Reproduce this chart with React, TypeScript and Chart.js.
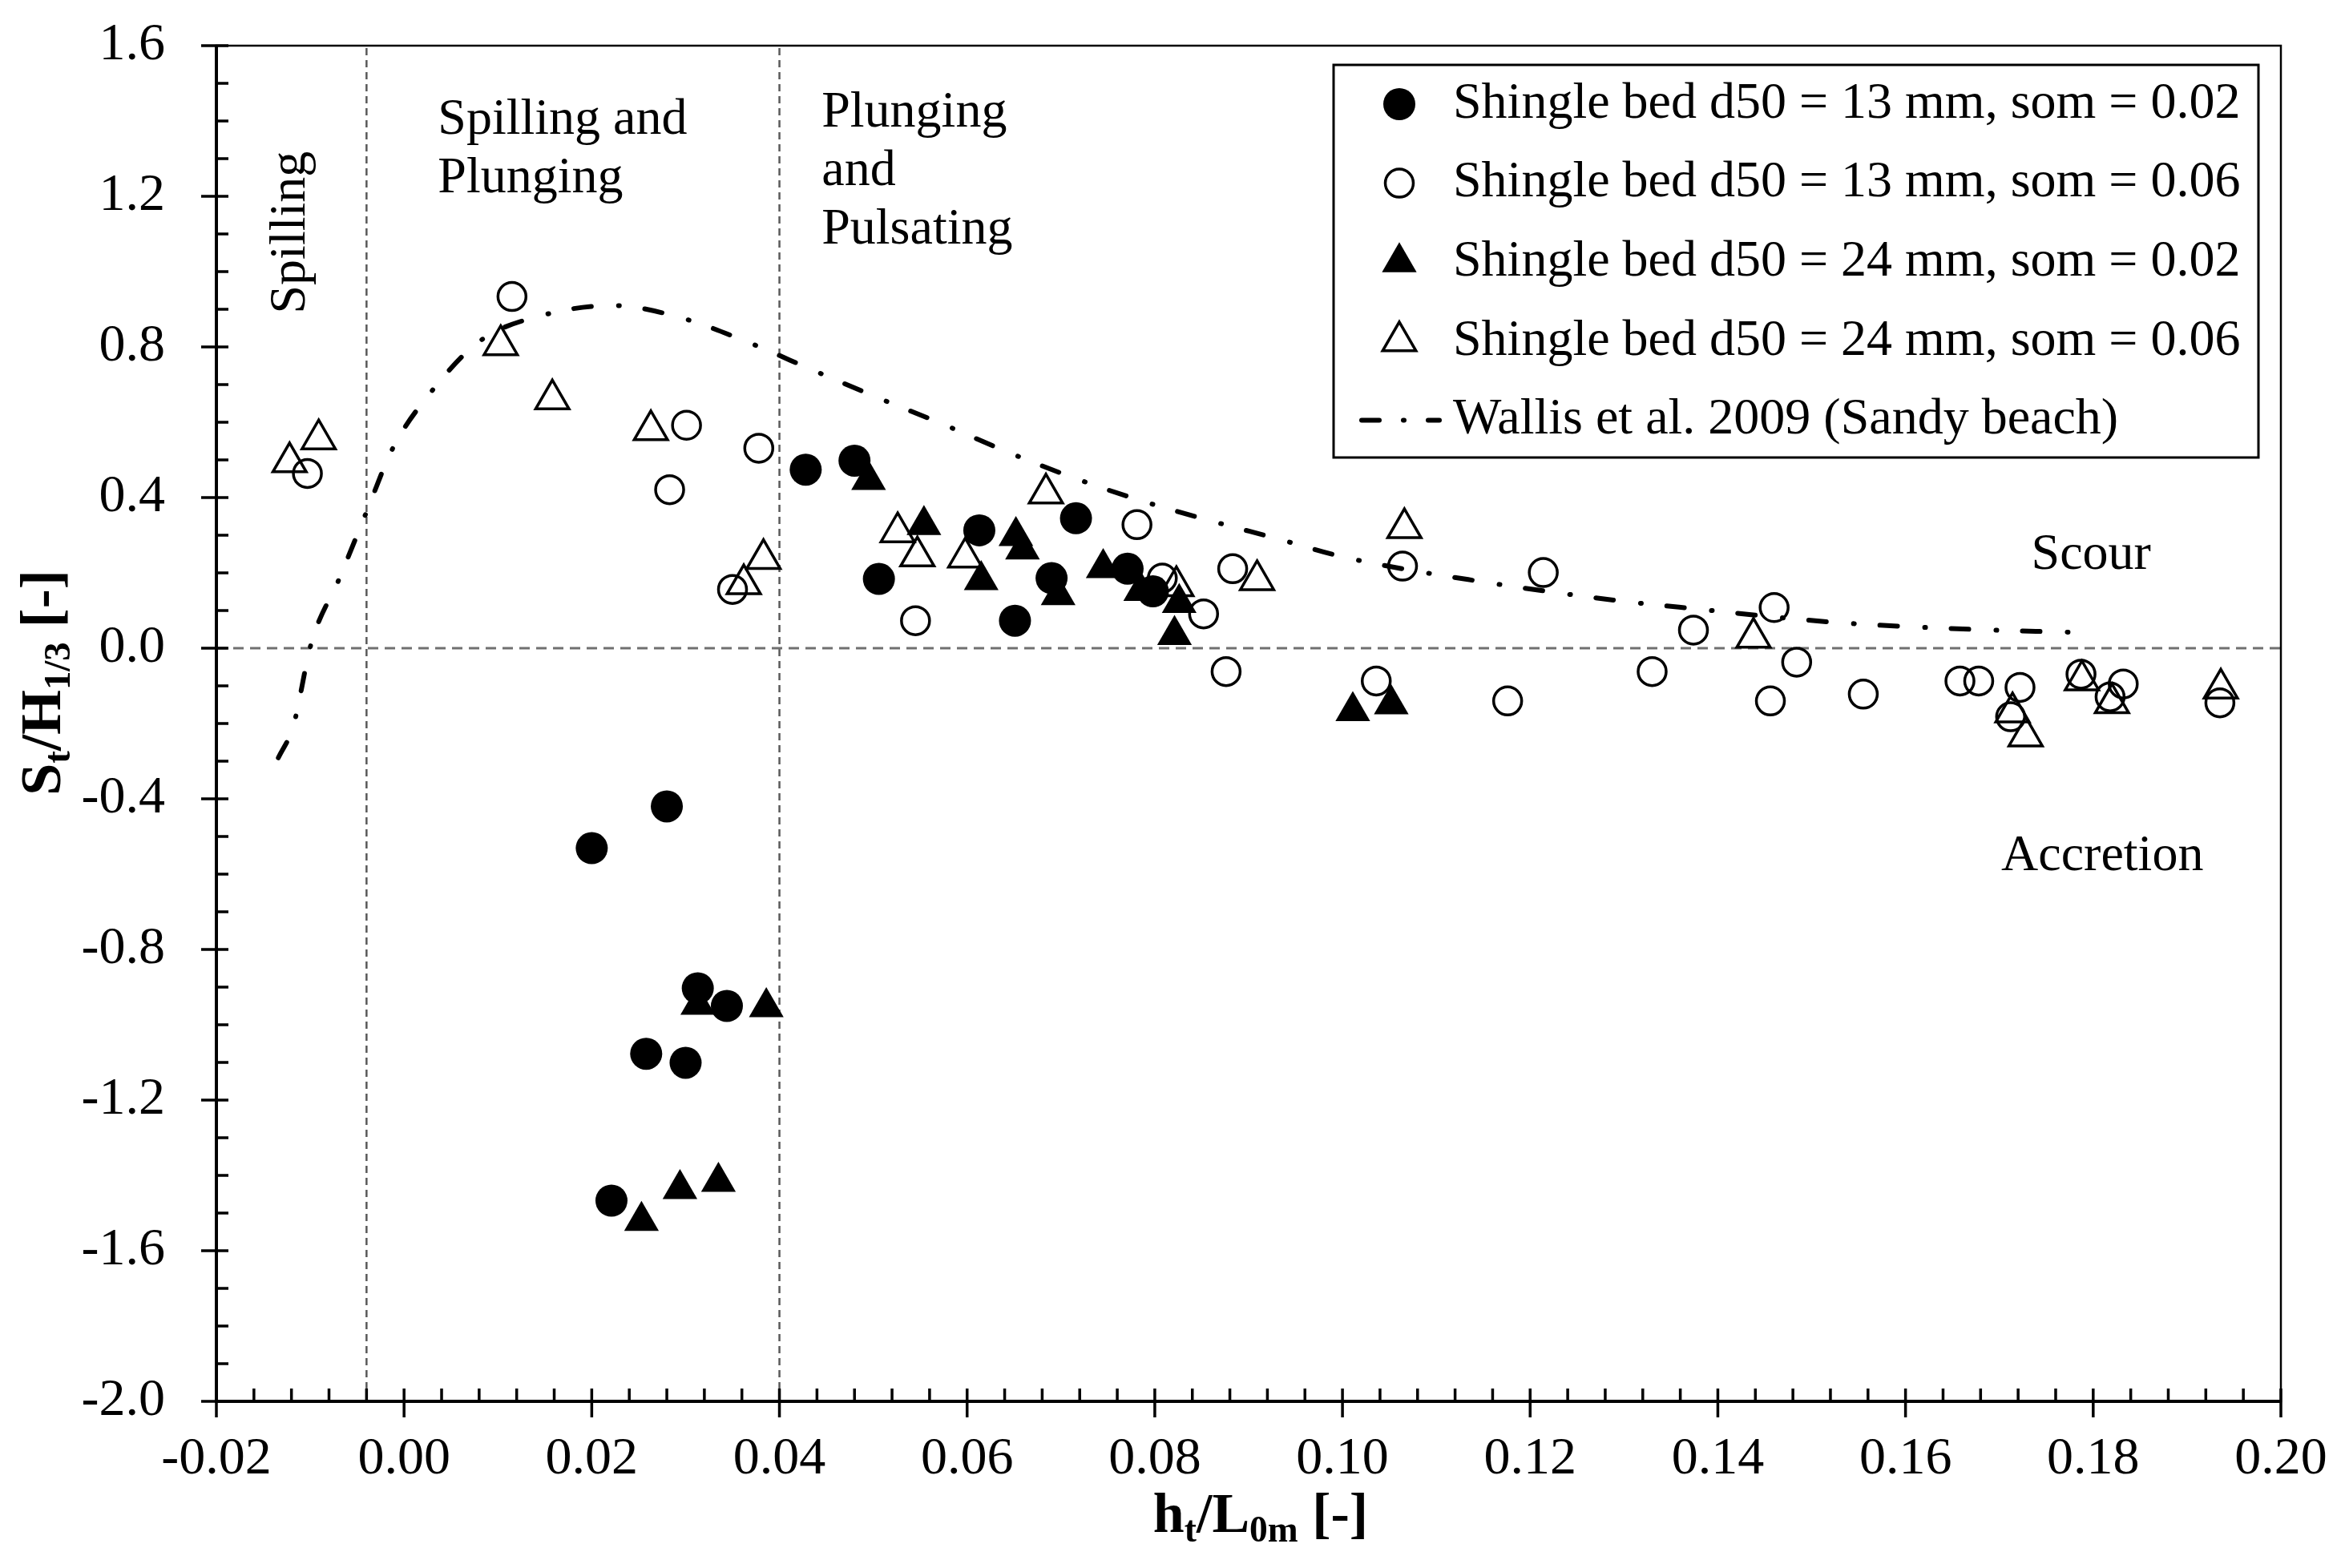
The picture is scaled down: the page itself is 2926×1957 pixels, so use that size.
import { useEffect, useRef } from "react";
import { Chart, registerables } from "chart.js";
import { drawPoint } from "chart.js/helpers";

Chart.register(...registerables);

const SERIF = "'Liberation Serif', 'Times New Roman', Times, serif";
Chart.defaults.font.family = SERIF;
Chart.defaults.color = "#000";

// Shingle bed d50 = 13 mm, som = 0.02 (filled circles)
const d13s02X = [0.02, 0.028, 0.0313, 0.0344, 0.0258, 0.03, 0.0221, 0.0428, 0.048, 0.0506, 0.0613, 0.0651, 0.069, 0.0716, 0.0771, 0.0798];
const d13s02Y = [-0.531, -0.42, -0.903, -0.95, -1.077, -1.101, -1.467, 0.474, 0.498, 0.184, 0.313, 0.073, 0.186, 0.345, 0.211, 0.151];

// Shingle bed d50 = 13 mm, som = 0.06 (open circles)
const d13s06X = [-0.0103, 0.0115, 0.0301, 0.0378, 0.0283, 0.035, 0.0545, 0.0781, 0.0808, 0.0852, 0.0883, 0.0876, 0.1036, 0.1064, 0.1176, 0.1214, 0.133, 0.1374, 0.146, 0.1484, 0.1456, 0.1555, 0.1658, 0.1678, 0.1722, 0.1712, 0.1787, 0.1832, 0.1818, 0.1935];
const d13s06Y = [0.464, 0.934, 0.592, 0.531, 0.421, 0.156, 0.073, 0.328, 0.186, 0.091, 0.211, -0.062, -0.087, 0.218, -0.14, 0.201, -0.062, 0.048, 0.108, -0.037, -0.14, -0.122, -0.087, -0.087, -0.104, -0.182, -0.069, -0.095, -0.129, -0.145];

// Shingle bed d50 = 24 mm, som = 0.02 (filled triangles)
const d24s02X = [0.0313, 0.0386, 0.0253, 0.0294, 0.0335, 0.0495, 0.0554, 0.0652, 0.0659, 0.0615, 0.0697, 0.0745, 0.0785, 0.0826, 0.0821, 0.1011, 0.1052];
const d24s02Y = [-0.947, -0.953, -1.521, -1.436, -1.417, 0.447, 0.327, 0.298, 0.262, 0.181, 0.141, 0.213, 0.152, 0.12, 0.035, -0.167, -0.149];

// Shingle bed d50 = 24 mm, som = 0.06 (open triangles)
const d24s06X = [-0.0122, -0.0091, 0.0103, 0.0158, 0.0263, 0.0383, 0.0362, 0.0526, 0.0547, 0.0598, 0.0684, 0.0823, 0.0909, 0.1066, 0.1438, 0.1714, 0.1728, 0.1788, 0.182, 0.1936];
const d24s06Y = [0.494, 0.555, 0.805, 0.661, 0.579, 0.237, 0.17, 0.308, 0.244, 0.241, 0.411, 0.165, 0.181, 0.319, 0.028, -0.17, -0.234, -0.085, -0.146, -0.107];

// Wallis et al. 2009 (Sandy beach)
const wallisX = [-0.0134, -0.0118, -0.0099, -0.0069, -0.0041, -0.0012, 0.0029, 0.0081, 0.0149, 0.0223, 0.0297, 0.0367, 0.0436, 0.0505, 0.0575, 0.0644, 0.0714, 0.0785, 0.0857, 0.093, 0.1003, 0.115, 0.1298, 0.1374, 0.1523, 0.1672, 0.1798];
const wallisY = [-0.291, -0.206, 0.012, 0.185, 0.356, 0.531, 0.681, 0.816, 0.885, 0.91, 0.876, 0.812, 0.738, 0.665, 0.594, 0.52, 0.452, 0.392, 0.34, 0.291, 0.241, 0.176, 0.125, 0.105, 0.069, 0.05, 0.041];

// breaker type limits and zero line
const breakerLimitsX = [-0.004, 0.04];
const X_MIN = -0.02;
const X_MAX = 0.2;
const Y_MIN = -2.0;
const Y_MAX = 1.6;

const legendLabels = [
  "Shingle bed d50 = 13 mm, som = 0.02",
  "Shingle bed d50 = 13 mm, som = 0.06",
  "Shingle bed d50 = 24 mm, som = 0.02",
  "Shingle bed d50 = 24 mm, som = 0.06",
  "Wallis et al. 2009 (Sandy beach)",
];

const regionLabels = [
  { lines: ["Spilling"], x: -0.0106, y: 1.104, rotate: true },
  { lines: ["Spilling and", "Plunging"], x: 0.0036, y: 1.367, rotate: false },
  { lines: ["Plunging", "and", "Pulsating"], x: 0.0445, y: 1.385, rotate: false },
  { lines: ["Scour"], x: 0.1734, y: 0.211, rotate: false },
  { lines: ["Accretion"], x: 0.1702, y: -0.59, rotate: false },
];

const zip = (xs: number[], ys: number[]) => xs.map((x, i) => ({ x, y: ys[i] }));
const fmt = (v: number, d: number) => (Math.abs(v) < 1e-9 ? 0 : v).toFixed(d);

const WALLIS_DASH = [22, 34, 1, 32];

function drawRich(ctx: CanvasRenderingContext2D, parts: [string, boolean][], size: number, cx: number, baseY: number) {
  const sub = size * 0.65;
  const widths = parts.map(([t, s]) => {
    ctx.font = `bold ${s ? sub : size}px ${SERIF}`;
    return ctx.measureText(t).width;
  });
  let x = cx - widths.reduce((a, b) => a + b, 0) / 2;
  ctx.textAlign = "left";
  ctx.textBaseline = "alphabetic";
  parts.forEach(([t, s], i) => {
    ctx.font = `bold ${s ? sub : size}px ${SERIF}`;
    ctx.fillText(t, x, baseY + (s ? size * 0.17 : 0));
    x += widths[i];
  });
}

const decorations = {
  id: "decorations",
  afterDraw(chart: any) {
    const { ctx, chartArea: a } = chart;
    const xs = chart.scales.x;
    const ys = chart.scales.y;
    ctx.save();
    ctx.strokeStyle = "#000";
    ctx.fillStyle = "#000";

    // frame
    ctx.lineWidth = 2.5;
    ctx.strokeRect(a.left, a.top, a.right - a.left, a.bottom - a.top);
    ctx.lineWidth = 4;
    ctx.beginPath();
    ctx.moveTo(a.left, a.top);
    ctx.lineTo(a.left, a.bottom);
    ctx.lineTo(a.right, a.bottom);
    ctx.stroke();

    // tick marks (minor inside, major crossing)
    ctx.lineWidth = 3.5;
    ctx.beginPath();
    for (let i = -20; i <= 16; i++) {
      const p = ys.getPixelForValue(i / 10);
      const major = (i + 20) % 4 === 0;
      ctx.moveTo(a.left - (major ? 19 : 0), p);
      ctx.lineTo(a.left + 15, p);
    }
    for (let i = -5; i <= 50; i++) {
      const p = xs.getPixelForValue(i * 0.004);
      const major = (i + 5) % 5 === 0;
      ctx.moveTo(p, a.bottom + (major ? 20 : 0));
      ctx.lineTo(p, a.bottom - 16);
    }
    ctx.stroke();

    // region labels
    ctx.font = `64px ${SERIF}`;
    ctx.textBaseline = "alphabetic";
    regionLabels.forEach((r) => {
      const px = xs.getPixelForValue(r.x);
      const py = ys.getPixelForValue(r.y);
      if (r.rotate) {
        ctx.save();
        ctx.translate(px, py);
        ctx.rotate(-Math.PI / 2);
        ctx.textAlign = "center";
        ctx.fillText(r.lines[0], 0, 0);
        ctx.restore();
      } else {
        ctx.textAlign = "left";
        r.lines.forEach((l, i) => ctx.fillText(l, px, py + i * 73));
      }
    });

    // axis titles
    drawRich(ctx, [["h", false], ["t", true], ["/L", false], ["0m", true], [" [-]", false]], 70, (a.left + a.right) / 2 + 15, 1912);
    ctx.save();
    ctx.translate(75, 852);
    ctx.rotate(-Math.PI / 2);
    drawRich(ctx, [["S", false], ["t", true], ["/H", false], ["1/3", true], [" [-]", false]], 72, 0, 0);
    ctx.restore();

    // legend
    const lw = 1154;
    const lh = 490;
    const lx = a.right - 28 - lw;
    const ly = a.top + 24;
    ctx.fillStyle = "#fff";
    ctx.fillRect(lx, ly, lw, lh);
    ctx.strokeStyle = "#000";
    ctx.lineWidth = 3;
    ctx.strokeRect(lx, ly, lw, lh);
    ctx.font = `64px ${SERIF}`;
    ctx.textAlign = "left";
    ctx.textBaseline = "middle";
    legendLabels.forEach((label, i) => {
      const cy = ly + 49 + i * 98.6;
      const ds = chart.data.datasets[i];
      if (i < 4) {
        ctx.save();
        ctx.fillStyle = ds.backgroundColor;
        ctx.strokeStyle = ds.borderColor;
        ctx.lineWidth = ds.borderWidth;
        drawPoint(ctx, { pointStyle: ds.pointStyle, radius: ds.pointRadius, borderWidth: ds.borderWidth, rotation: 0 }, lx + 82, cy);
        ctx.restore();
      } else {
        ctx.save();
        ctx.strokeStyle = "#000";
        ctx.lineWidth = 6;
        ctx.lineCap = "round";
        ctx.setLineDash([22, 30, 1, 30]);
        ctx.beginPath();
        ctx.moveTo(lx + 35, cy);
        ctx.lineTo(lx + 132, cy);
        ctx.stroke();
        ctx.restore();
      }
      ctx.fillStyle = "#000";
      ctx.fillText(label, lx + 149, cy);
    });
    ctx.restore();
  },
};

const noScalePadding = (s: any) => {
  s.paddingTop = 0;
  s.paddingBottom = 0;
  s.paddingLeft = 0;
  s.paddingRight = 0;
};

export default function App() {
  const ref = useRef<HTMLCanvasElement>(null);

  useEffect(() => {
    document.body.style.margin = "0";
    if (!ref.current) return;
    const chart = new Chart(ref.current, {
      type: "scatter",
      data: {
        datasets: [
          {
            data: zip(d13s02X, d13s02Y),
            pointStyle: "circle",
            pointRadius: 20,
            backgroundColor: "#000",
            borderColor: "#000",
            borderWidth: 0,
          },
          {
            data: zip(d13s06X, d13s06Y),
            pointStyle: "circle",
            pointRadius: 17.5,
            backgroundColor: "rgba(0,0,0,0)",
            borderColor: "#000",
            borderWidth: 3.5,
          },
          {
            data: zip(d24s02X, d24s02Y),
            pointStyle: "triangle",
            pointRadius: 25,
            backgroundColor: "#000",
            borderColor: "#000",
            borderWidth: 0,
          },
          {
            data: zip(d24s06X, d24s06Y),
            pointStyle: "triangle",
            pointRadius: 24,
            backgroundColor: "rgba(0,0,0,0)",
            borderColor: "#000",
            borderWidth: 3.5,
          },
          {
            data: zip(wallisX, wallisY),
            showLine: true,
            pointRadius: 0,
            borderColor: "#000",
            borderWidth: 6,
            borderDash: WALLIS_DASH,
            borderCapStyle: "round",
            cubicInterpolationMode: "monotone",
            fill: false,
          },
          {
            data: zip([X_MIN, X_MAX], [0, 0]),
            showLine: true,
            pointRadius: 0,
            borderColor: "#707070",
            borderWidth: 3,
            borderDash: [13, 8],
            fill: false,
          },
          ...breakerLimitsX.map((bx) => ({
            data: zip([bx, bx], [Y_MIN, Y_MAX]),
            showLine: true,
            pointRadius: 0,
            borderColor: "#5a5a5a",
            borderWidth: 2.5,
            borderDash: [9, 6],
            fill: false,
          })),
        ] as any,
      },
      options: {
        responsive: false,
        devicePixelRatio: 1,
        animation: false,
        layout: { padding: { top: 57, right: 80, left: 0, bottom: 0 } },
        plugins: { legend: { display: false }, tooltip: { enabled: false } },
        scales: {
          x: {
            type: "linear",
            min: X_MIN,
            max: X_MAX,
            grid: { display: false, drawTicks: false },
            border: { display: false },
            ticks: {
              stepSize: 0.02,
              padding: 40,
              autoSkip: false,
              maxRotation: 0,
              color: "#000",
              font: { family: SERIF, size: 66, lineHeight: 1 },
              callback: (v: any) => fmt(Number(v), 2),
            },
            afterFit: (s: any) => {
              s.height = 208;
              noScalePadding(s);
            },
          },
          y: {
            type: "linear",
            min: Y_MIN,
            max: Y_MAX,
            grid: { display: false, drawTicks: false },
            border: { display: false },
            ticks: {
              stepSize: 0.4,
              padding: 64,
              color: "#000",
              font: { family: SERIF, size: 66, lineHeight: 1 },
              callback: (v: any) => fmt(Number(v), 1),
            },
            afterFit: (s: any) => {
              s.width = 270;
              noScalePadding(s);
            },
          },
        },
      },
      plugins: [decorations],
    });
    return () => chart.destroy();
  }, []);

  return (
    <div style={{ width: 2926, height: 1957, overflow: "hidden", background: "#fff" }}>
      <canvas ref={ref} width={2926} height={1957} style={{ display: "block" }} />
    </div>
  );
}
